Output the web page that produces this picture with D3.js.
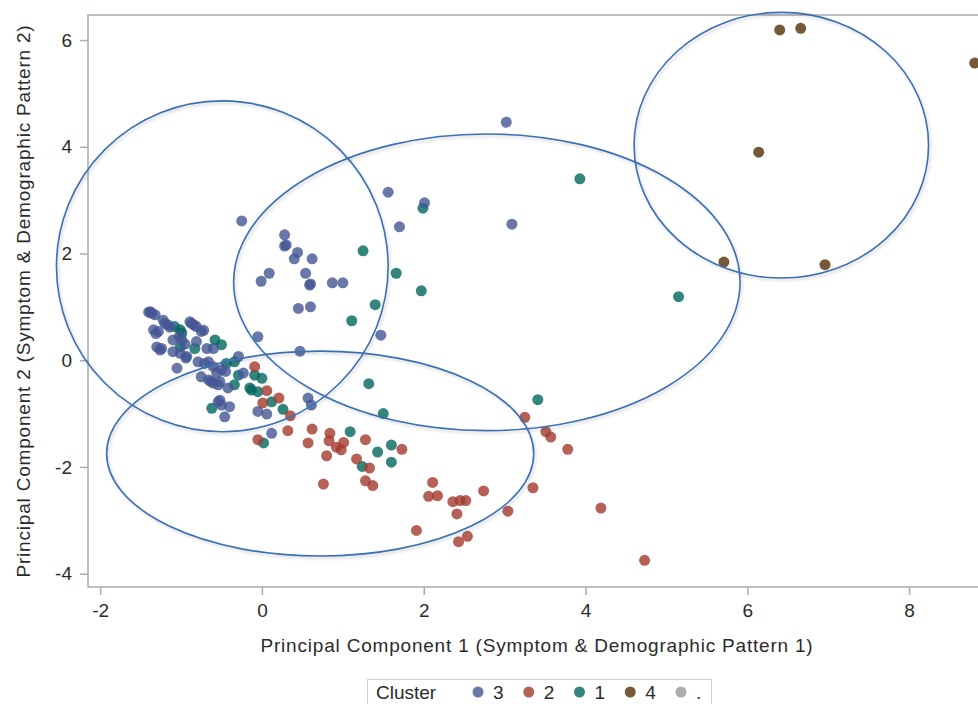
<!DOCTYPE html>
<html>
<head>
<meta charset="utf-8">
<script src="https://cdn.jsdelivr.net/npm/d3@7"></script>
<style>
  body { margin: 0; background: #fff; }
  text { font-family: "Liberation Sans", Arial, sans-serif; fill: #2b2b2b; }
</style>
</head>
<body>
<svg id="chart" width="978" height="704"></svg>
<script>
// cluster order as it appears in the legend
var clusterKeys = ["3", "2", "1", "4", "."];
var clusterColors = ["#445694", "#A23A2E", "#01665E", "#543005", "#999999"];

var xTicks = [-2, 0, 2, 4, 6, 8];
var yTicks = [-4, -2, 0, 2, 4, 6];

var xTitle = "Principal Component 1 (Symptom & Demographic Pattern 1)";
var yTitle = "Principal Component 2 (Symptom & Demographic Pattern 2)";

// cluster 3 (blue)
var cluster3 = [
  [3.02,4.46],[1.56,3.15],[2.01,2.95],[1.70,2.50],[3.09,2.55],[-0.25,2.61],
  [0.28,2.35],[0.28,2.14],[0.30,2.16],[0.44,2.02],[0.40,1.90],[0.62,1.90],
  [0.09,1.63],[-0.01,1.48],[0.54,1.63],[0.59,1.41],[0.60,1.43],[0.87,1.45],
  [1.00,1.45],[0.45,0.97],[0.60,1.00],[-0.05,0.44],[1.47,0.47],[0.47,0.17],
  [-1.38,0.91],[-1.32,0.85],[-1.22,0.75],[-1.16,0.66],[-1.34,0.57],[-1.28,0.54],
  [-0.87,0.69],[-0.81,0.63],[-0.75,0.54],[-1.10,0.38],[-0.99,0.38],[-1.30,0.25],
  [-1.26,0.19],[-1.10,0.16],[-1.01,0.13],[-0.93,0.07],[-0.81,0.35],[-0.68,0.22],
  [-0.60,0.22],[-0.79,-0.03],[-0.66,-0.03],[-0.60,-0.12],[-0.50,-0.18],[-0.29,0.07],
  [-1.05,-0.15],[-0.75,-0.31],[-0.66,-0.37],[-0.60,-0.43],[-0.54,-0.46],[-0.42,-0.52],
  [-0.23,-0.24],[-0.54,-0.78],[-0.50,-0.84],[-0.40,-0.87],[-0.46,-1.06],[-0.05,-0.96],
  [0.06,-1.01],[0.57,-0.71],[0.61,-0.84],[0.12,-1.37],[-1.20,0.69],[-0.89,0.72],
  [-0.94,0.04],[-0.56,-0.24],[-0.52,-0.40],[-0.52,-0.75],[-1.36,0.88],[-1.14,0.62],
  [-1.40,0.90],[-1.31,0.50],[-1.02,0.45],[-0.71,-0.06],[-0.45,-0.21],[-0.72,0.56],
  [-0.95,0.30],[-0.84,0.66],[-1.24,0.22],[-0.63,-0.40]
];

// cluster 2 (red)
var cluster2 = [
  [-0.09,-0.12],[0.06,-0.57],[0.01,-0.80],[0.21,-0.71],[0.35,-1.04],[0.32,-1.32],
  [0.62,-1.29],[-0.05,-1.49],[0.57,-1.55],[0.84,-1.37],[0.83,-1.51],[0.92,-1.63],
  [1.01,-1.54],[0.98,-1.68],[0.80,-1.79],[1.28,-1.49],[1.17,-1.85],[1.33,-2.02],
  [1.73,-1.67],[0.76,-2.32],[1.28,-2.26],[1.37,-2.35],[1.91,-3.19],[2.11,-2.29],
  [2.06,-2.55],[2.17,-2.54],[2.74,-2.45],[2.36,-2.65],[2.45,-2.63],[2.52,-2.63],
  [2.41,-2.88],[2.43,-3.40],[2.54,-3.30],[3.04,-2.83],[3.35,-2.39],[3.25,-1.07],
  [3.51,-1.34],[3.57,-1.44],[3.78,-1.67],[4.19,-2.77],[4.73,-3.75]
];

// cluster 1 (teal)
var cluster1 = [
  [1.25,2.05],[1.66,1.63],[1.97,1.30],[1.40,1.04],[1.11,0.74],[1.99,2.85],
  [3.93,3.40],[5.15,1.19],[1.32,-0.44],[1.50,-1.00],[3.41,-0.74],[1.60,-1.59],
  [1.60,-1.91],[1.09,-1.34],[1.43,-1.72],[1.24,-1.99],[0.02,-1.55],
  [-1.01,0.57],[-1.08,0.63],[-0.99,0.51],[-1.01,0.25],[-0.83,0.22],[-0.58,0.38],
  [-0.50,0.29],[-0.44,-0.06],[-0.34,-0.03],[-0.29,-0.28],[-0.34,-0.46],[-0.62,-0.90],
  [-0.09,-0.28],[0.00,-0.34],[-0.13,-0.56],[-0.05,-0.59],[0.12,-0.78],[0.26,-0.92],
  [-0.15,-0.52]
];

// cluster 4 (brown)
var cluster4 = [
  [6.40,6.19],[6.66,6.22],[6.14,3.90],[5.71,1.84],[6.96,1.79],[8.81,5.57]
];

// ellipses: centre and radii in data units
var ellipseCx = [-0.49, 2.78, 0.72, 6.42];
var ellipseCy = [1.76, 1.46, -1.75, 4.03];
var ellipseRx = [2.05, 3.13, 2.64, 1.82];
var ellipseRy = [3.10, 2.78, 1.92, 2.49];

var svg = d3.select("#chart");

var plotLeft = 88, plotRight = 986, plotTop = 15, plotBottom = 587;

var x = d3.scaleLinear().domain([-2.15, 8.95]).range([plotLeft, plotRight]);
var y = d3.scaleLinear().domain([-4.25, 6.47]).range([plotBottom, plotTop]);

var color = d3.scaleOrdinal().domain(clusterKeys).range(clusterColors);

var defs = svg.append("defs");
var shadow = defs.append("filter").attr("id", "shadow")
    .attr("x", "-10%").attr("y", "-10%").attr("width", "120%").attr("height", "120%");
shadow.append("feDropShadow")
    .attr("dx", 1.5).attr("dy", 2).attr("stdDeviation", 1.5)
    .attr("flood-color", "#000").attr("flood-opacity", 0.18);

// frame
svg.append("rect")
    .attr("x", plotLeft).attr("y", plotTop)
    .attr("width", plotRight - plotLeft).attr("height", plotBottom - plotTop)
    .attr("fill", "none").attr("stroke", "#a8adb3").attr("stroke-width", 1.5);

svg.append("g")
    .attr("transform", "translate(0," + plotBottom + ")")
    .call(d3.axisBottom(x).tickValues(xTicks).tickSize(8).tickPadding(9).tickFormat(String));
svg.append("g")
    .attr("transform", "translate(" + plotLeft + ",0)")
    .call(d3.axisLeft(y).tickValues(yTicks).tickSize(8).tickPadding(8).tickFormat(String));

svg.selectAll(".domain").remove();
svg.selectAll(".tick line").attr("stroke", "#a8adb3").attr("stroke-width", 1.5);
svg.selectAll(".tick text")
    .style("font-size", "19px")
    .style("font-family", "'Liberation Sans', Arial, sans-serif")
    .attr("fill", "#2b2b2b");

// axis titles
svg.append("text")
    .attr("x", (plotLeft + plotRight) / 2).attr("y", 652)
    .attr("text-anchor", "middle")
    .style("font-size", "19px").style("letter-spacing", "0.8px")
    .text(xTitle);
svg.append("text")
    .attr("transform", "translate(30," + (plotTop + plotBottom) / 2 + ") rotate(-90)")
    .attr("text-anchor", "middle")
    .style("font-size", "19px").style("letter-spacing", "0.8px")
    .text(yTitle);

// points (teal drawn first so the blue mass sits over it)
var groups = [
  { key: "1", pts: cluster1 },
  { key: "3", pts: cluster3 },
  { key: "2", pts: cluster2 },
  { key: "4", pts: cluster4 }
];

svg.append("g").selectAll("g")
    .data(groups)
    .enter().append("g")
    .attr("fill", function(d) { return color(d.key); })
    .selectAll("circle")
    .data(function(d) { return d.pts; })
    .enter().append("circle")
    .attr("cx", function(d) { return x(d[0]); })
    .attr("cy", function(d) { return y(d[1]); })
    .attr("r", 5.5)
    .attr("fill-opacity", 0.8);

// ellipses
svg.append("g").selectAll("ellipse")
    .data(d3.range(ellipseCx.length))
    .enter().append("ellipse")
    .attr("cx", function(i) { return x(ellipseCx[i]); })
    .attr("cy", function(i) { return y(ellipseCy[i]); })
    .attr("rx", function(i) { return x(ellipseRx[i]) - x(0); })
    .attr("ry", function(i) { return y(0) - y(ellipseRy[i]); })
    .attr("fill", "none")
    .attr("stroke", "#3a6fb5")
    .attr("stroke-width", 1.6)
    .attr("filter", "url(#shadow)");

// legend
var legend = svg.append("g");
legend.append("rect")
    .attr("x", 367.5).attr("y", 679.5)
    .attr("width", 344).attr("height", 32)
    .attr("fill", "#fff").attr("stroke", "#cfcfcf");
legend.append("text")
    .attr("x", 376).attr("y", 699)
    .style("font-size", "19px")
    .text("Cluster");

var lx = d3.scalePoint().domain(clusterKeys).range([478, 681]);
var items = legend.selectAll(".item")
    .data(clusterKeys)
    .enter().append("g")
    .attr("class", "item")
    .attr("transform", function(d) { return "translate(" + lx(d) + ",692)"; });
items.append("circle")
    .attr("r", 5.5)
    .attr("fill", function(d) { return color(d); })
    .attr("fill-opacity", 0.8);
items.append("text")
    .attr("x", 15).attr("y", 7)
    .style("font-size", "19px")
    .text(function(d) { return d; });
</script>
</body>
</html>
